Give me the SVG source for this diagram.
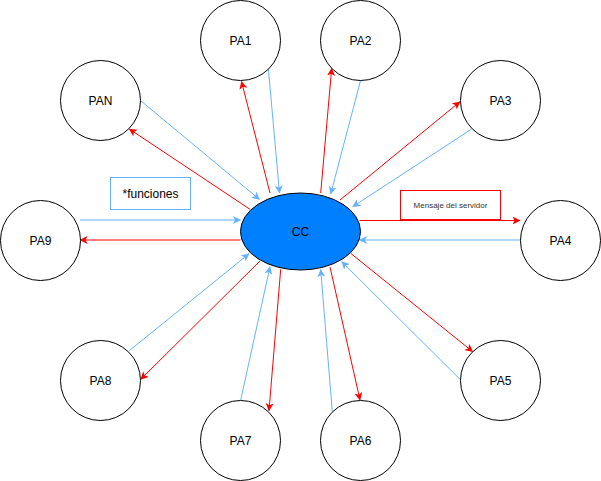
<svg xmlns="http://www.w3.org/2000/svg" width="601" height="481" viewBox="0 0 601 481">
<style>
.node circle{fill:#fff;stroke:#000;stroke-width:1}
.lbl{font-family:"Liberation Sans",Arial,sans-serif;font-size:12px;fill:#000;text-anchor:middle;dominant-baseline:central}
.r{stroke:#FF0000;stroke-width:1;fill:none;marker-end:url(#ar)}
.b{stroke:#66B2FF;stroke-width:1;fill:none;marker-end:url(#ab)}
</style>
<defs>
<marker id="ar" viewBox="0 0 8 8" markerWidth="8" markerHeight="8" refX="7.5" refY="4" orient="auto" markerUnits="userSpaceOnUse"><path d="M0,0 L8,4 L0,8 L2,4 Z" fill="#FF0000"/></marker>
<marker id="ab" viewBox="0 0 8 8" markerWidth="8" markerHeight="8" refX="7.5" refY="4" orient="auto" markerUnits="userSpaceOnUse"><path d="M0,0 L8,4 L0,8 L2,4 Z" fill="#66B2FF"/></marker>
</defs>
<g id="connectors">
<line class="r" x1="270" y1="193" x2="241.5" y2="81.5"/>
<line class="b" x1="268.3" y1="68" x2="279.5" y2="193"/>
<line class="r" x1="320.7" y1="193" x2="331.7" y2="68.3"/>
<line class="b" x1="360.7" y1="80" x2="330.7" y2="194"/>
<line class="r" x1="340" y1="200" x2="460" y2="101.7"/>
<line class="b" x1="471.7" y1="129" x2="352.7" y2="206.7"/>
<line class="b" x1="140.7" y1="100.7" x2="259.5" y2="199.5"/>
<line class="r" x1="250" y1="209.3" x2="129.3" y2="129"/>
<line class="b" x1="80" y1="220" x2="240.5" y2="220"/>
<line class="r" x1="240.5" y1="240" x2="80" y2="240"/>
<line class="r" x1="359.5" y1="220.5" x2="520" y2="220.5"/>
<line class="b" x1="520" y1="240" x2="359.5" y2="240"/>
<line class="b" x1="129.3" y1="350.7" x2="249" y2="253.7"/>
<line class="r" x1="260" y1="261" x2="140.7" y2="379.3"/>
<line class="b" x1="240.7" y1="400" x2="270" y2="266.7"/>
<line class="r" x1="280.7" y1="269.3" x2="269" y2="410.7"/>
<line class="b" x1="332.3" y1="411.7" x2="320.7" y2="269.5"/>
<line class="r" x1="330" y1="267" x2="360" y2="400"/>
<line class="r" x1="350.7" y1="253.3" x2="472.7" y2="351.7"/>
<line class="b" x1="460" y1="379.3" x2="341.7" y2="261.7"/>
</g>
<g id="funciones">
<rect x="110.5" y="177.5" width="80" height="32" fill="#fff" stroke="#66B2FF"/>
<text class="lbl" x="150.5" y="193.5">*funciones</text>
</g>
<g id="mensaje">
<rect x="400.5" y="190.5" width="100" height="29" fill="#fff" stroke="#FF0000"/>
<text class="lbl" x="450.5" y="205" style="font-size:8px;fill:#333">Mensaje del servidor</text>
</g>
<g id="CC">
<ellipse cx="300.5" cy="231.5" rx="60" ry="38.5" fill="#007FFF" stroke="#000"/>
<text class="lbl" x="300.5" y="231.5">CC</text>
</g>
<g id="PA1" class="node"><circle cx="240.5" cy="40.5" r="40"/><text class="lbl" x="240.5" y="40.5">PA1</text></g>
<g id="PA2" class="node"><circle cx="360.5" cy="40.5" r="40"/><text class="lbl" x="360.5" y="40.5">PA2</text></g>
<g id="PA3" class="node"><circle cx="500.5" cy="100.5" r="40"/><text class="lbl" x="500.5" y="100.5">PA3</text></g>
<g id="PAN" class="node"><circle cx="100.5" cy="100.5" r="40"/><text class="lbl" x="100.5" y="100.5">PAN</text></g>
<g id="PA9" class="node"><circle cx="40.5" cy="240.5" r="40"/><text class="lbl" x="40.5" y="240.5">PA9</text></g>
<g id="PA4" class="node"><circle cx="560.5" cy="240.5" r="40"/><text class="lbl" x="560.5" y="240.5">PA4</text></g>
<g id="PA8" class="node"><circle cx="100.5" cy="380.5" r="40"/><text class="lbl" x="100.5" y="380.5">PA8</text></g>
<g id="PA5" class="node"><circle cx="500.5" cy="380.5" r="40"/><text class="lbl" x="500.5" y="380.5">PA5</text></g>
<g id="PA7" class="node"><circle cx="240.5" cy="440.5" r="40"/><text class="lbl" x="240.5" y="440.5">PA7</text></g>
<g id="PA6" class="node"><circle cx="360.5" cy="440.5" r="40"/><text class="lbl" x="360.5" y="440.5">PA6</text></g>
</svg>
